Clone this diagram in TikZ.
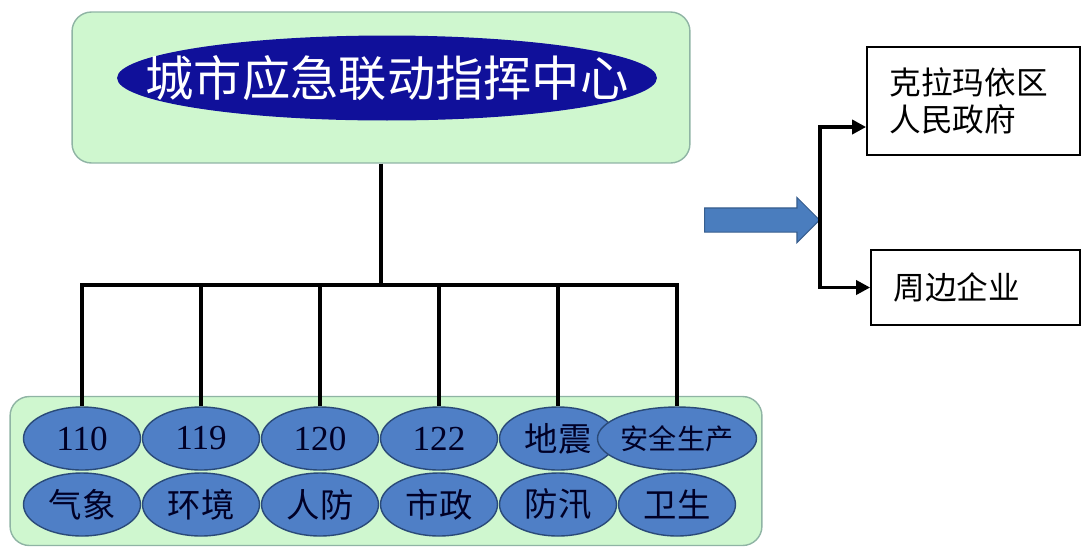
\documentclass[tikz,border=0pt]{standalone}
\usepackage{fontspec}
\setmainfont{Liberation Serif}
\newfontfamily\cjk{Noto Sans CJK SC}
\usetikzlibrary{shapes.geometric,shapes.arrows,arrows.meta}
\definecolor{panelgreen}{HTML}{CFF7CF}
\definecolor{panelline}{HTML}{8FB4A4}
\definecolor{navy}{HTML}{10109A}
\definecolor{cellblue}{HTML}{4F7FC6}
\definecolor{cellline}{HTML}{2A4A78}
\definecolor{arrowblue}{HTML}{4A7DBE}

\begin{document}
\begin{tikzpicture}[x=0.02cm,y=-0.02cm,
	panel/.style = {draw=panelline, fill=panelgreen, rounded corners=11pt, line width=0.8pt},
	cell/.style = {ellipse, draw=cellline, fill=cellblue, line width=0.8pt, inner sep=0pt,
		minimum width=2.34cm, minimum height=1.26cm, text=black!85!blue,
		font=\fontsize{20}{22}\selectfont},
	party/.style = {draw, line width=1pt, inner xsep=0.45cm, align=left,
		font=\cjk\fontsize{18}{21}\selectfont},
	link/.style = {line width=2.2pt},
	tip/.style = {line width=2.2pt, -{Triangle[length=8pt,width=8pt]}}]
	\useasboundingbox (0,0) rectangle (1081,549);
	% upper panel
		\node[panel, minimum width=12.36cm, minimum height=3.02cm] (top) at (381,87.5) {};
		\node[ellipse, fill=navy, minimum width=10.8cm, minimum height=1.7cm] (head) at (387,78) {};
		\node[text=white, font=\cjk\fontsize{27.5}{30}\selectfont] (title) at (head) {城市应急联动指挥中心};
	% lower panel
		\node[panel, minimum width=15.04cm, minimum height=2.98cm] (bottom) at (386,471) {};
		\foreach \i/\x/\up/\down in {1/82/110/气象, 2/201/119/环境, 3/320/120/人防,
			4/439/122/市政, 5/558/{\cjk\fontsize{19}{20}\selectfont 地震}/防汛,
			6/677/{\cjk\fontsize{16}{20}\selectfont 安全生产}/卫生}{
			\node[cell] (up\i) at (\x,438.5) {\up};
			\node[cell, font=\cjk\fontsize{19}{20}\selectfont] (down\i) at (\x,504.5) {\down};
		}
		\coordinate (bus) at (381,285);
		\draw[link] (top.south) -- (top.south |- bus);
		\foreach \i in {1,...,6}
			\draw[link] (top.south |- bus) -| (up\i.north);
	% right side
		\node[single arrow, fill=arrowblue, draw=arrowblue!75!black, line width=0.6pt,
			inner xsep=0pt, inner ysep=0.23cm, minimum width=0pt, minimum height=2.3cm,
			single arrow head extend=0.21cm, single arrow head indent=0pt] (push) at (756,220) {};
		\node[party, minimum width=4.26cm, minimum height=2.16cm, text width=3.36cm] (gov) at (973.5,101)
			{克拉玛依区\\人民政府};
		\node[party, minimum width=4.18cm, minimum height=1.5cm, text width=3.28cm] (firms) at (975.5,287.5)
			{周边企业};
		\coordinate (fork) at (820,220);
		\coordinate (forktop) at (820,127);
		\draw[tip] (fork) -- (forktop) -- (forktop -| gov.west);
		\draw[tip] (fork) |- (firms.west);
\end{tikzpicture}
\end{document}
